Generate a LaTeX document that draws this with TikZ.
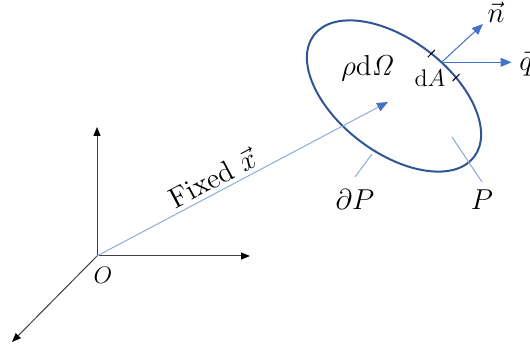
\documentclass[tikz,border=0pt]{standalone}
\usetikzlibrary{arrows.meta,calc}
\definecolor{axisgray}{HTML}{404040}
\definecolor{lightblue}{HTML}{8FAADC}
\definecolor{midblue}{HTML}{4472C4}
\definecolor{darkblue}{HTML}{2F5597}

\begin{document}
\begin{tikzpicture}[x=0.5pt,y=-0.5pt,
  axis/.style={axisgray,line width=0.5pt,-{Triangle[length=4.5pt,width=3.5pt,color=black]}},
  vecline/.style={midblue,line width=0.5pt,-{Triangle[length=5.5pt,width=4.5pt]}},
  posline/.style={lightblue,line width=0.5pt,-{Triangle[length=5.5pt,width=4.5pt,color=midblue]}},
  leader/.style={lightblue,line width=0.5pt},
  tick/.style={black,line width=0.5pt},
  lbl/.style={inner sep=0pt,text=black},
  body/.style={darkblue,line width=1pt}
]
\useasboundingbox (0,0) rectangle (530,351);

% axes
\coordinate (O) at (97,256);
\coordinate (ztip) at (97,127);
\coordinate (ytip) at (250,256);
\coordinate (xtip) at (12,342);
\draw[axis] (O) -- (ztip);
\draw[axis] (O) -- (ytip);
\draw[axis] (O) -- (xtip);
\node[lbl,font=\large] (olbl) at (103,275) {$O$};

% body P
\coordinate (C) at (394,96);
\begin{scope}[shift={(C)},rotate=-37.2]
  \draw[body] (0,0) ellipse [x radius=50.3pt,y radius=28.2pt];
  \coordinate (dA) at ({50.3pt*cos(80)},{28.2pt*sin(80)});
  \draw[tick] ({50.3pt*cos(88)},{28.2pt*sin(88)-2.5pt}) -- ++(0.6pt,5pt);
  \draw[tick] ({50.3pt*cos(68)},{28.2pt*sin(68)-2.5pt}) -- ++(0.6pt,5pt);
\end{scope}
\coordinate (ptip) at (388,102);
\draw[posline] (O) -- node[pos=0.42,sloped,above=2pt,lbl,font=\Large] (xlbl) {Fixed $\vec{x}$} (ptip);

% surface element
\coordinate (ntip) at (483,24);
\coordinate (qtip) at ($(dA)+(70,0)$);
\draw[vecline] (dA) -- (ntip);
\draw[vecline] (dA) -- (qtip);
\node[lbl,font=\Large] (nlbl) at (496,12) {$\vec{n}$};
\node[lbl,font=\Large,anchor=west] (qlbl) at (519,63) {$\vec{q}$};
\node[lbl,font=\large] (dAlbl) at (430,78) {$\mathrm{d}A$};
\node[lbl,font=\Large] (rholbl) at (368,68) {$\rho\mathrm{d}\mathit{\Omega}$};

% leaders
\coordinate (bnd) at (372,154);
\coordinate (bndend) at (355,177);
\coordinate (inner) at (452,137);
\coordinate (innerend) at (482,182);
\draw[leader] (bnd) -- (bndend);
\draw[leader] (inner) -- (innerend);
\node[lbl,font=\Large] (dPlbl) at (355,200) {$\partial P$};
\node[lbl,font=\Large] (Plbl) at (482,200) {$P$};
\end{tikzpicture}
\end{document}
